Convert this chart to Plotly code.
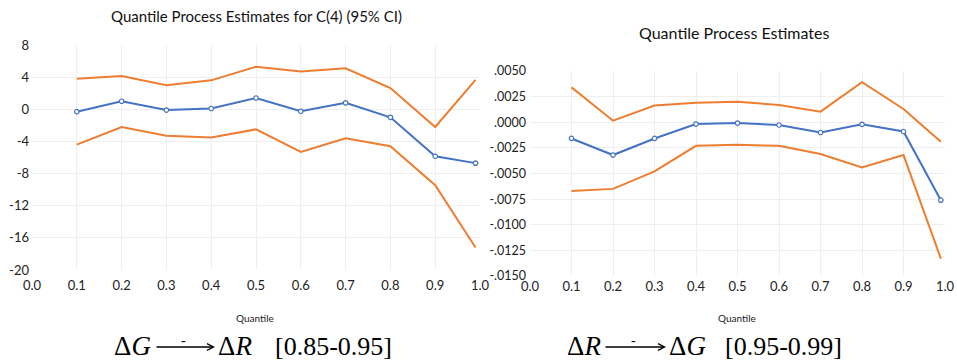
import plotly.graph_objects as go

W, H = 957, 363
OFF = 0  # body margin removed by post_script below

quantiles = [0.1, 0.2, 0.3, 0.4, 0.5, 0.6, 0.7, 0.8, 0.9, 0.99]

# Left panel: C(4) estimates with 95% CI
left_est = [-0.3, 1.0, -0.1, 0.1, 1.4, -0.25, 0.8, -1.0, -5.85, -6.7]
left_upper = [3.8, 4.15, 3.0, 3.6, 5.3, 4.7, 5.1, 2.65, -2.2, 3.65]
left_lower = [-4.4, -2.2, -3.3, -3.5, -2.5, -5.3, -3.6, -4.6, -9.45, -17.2]

# Right panel
right_est = [-0.00158, -0.0032, -0.00158, -0.00018, -0.00008, -0.00027, -0.0010, -0.0002, -0.0009, -0.0076]
right_upper = [0.0034, 0.00015, 0.00164, 0.0019, 0.0020, 0.00168, 0.00103, 0.0039, 0.00129, -0.0019]
right_lower = [-0.0067, -0.0065, -0.0048, -0.0023, -0.0022, -0.0023, -0.0031, -0.0044, -0.0032, -0.0133]

x_ticks = [0.0, 0.1, 0.2, 0.3, 0.4, 0.5, 0.6, 0.7, 0.8, 0.9, 1.0]
x_ticktext = ["0.0", "0.1", "0.2", "0.3", "0.4", "0.5", "0.6", "0.7", "0.8", "0.9", "1.0"]
left_yticks = [8, 4, 0, -4, -8, -12, -16, -20]
left_yticktext = ["8", "4", "0", "-4", "-8", "-12", "-16", "-20"]
right_yticks = [0.005, 0.0025, 0.0, -0.0025, -0.005, -0.0075, -0.01, -0.0125, -0.015]
right_yticktext = [".0050", ".0025", ".0000", "-.0025", "-.0050", "-.0075", "-.0100", "-.0125", "-.0150"]

BLUE = "#4472C4"
ORANGE = "#ED7D31"
GRID = "#EFEFEF"
FONT = "Lato"
SERIF = "Liberation Serif"


def px(x):
    return (x - OFF) / W


def py(y):
    return 1 - (y - OFF) / H


fig = go.Figure()

for (xa, ya, est, up, lo) in [("x", "y", left_est, left_upper, left_lower),
                              ("x2", "y2", right_est, right_upper, right_lower)]:
    fig.add_trace(go.Scatter(x=quantiles, y=up, mode="lines", xaxis=xa, yaxis=ya,
                             line=dict(color=ORANGE, width=2), showlegend=False))
    fig.add_trace(go.Scatter(x=quantiles, y=lo, mode="lines", xaxis=xa, yaxis=ya,
                             line=dict(color=ORANGE, width=2), showlegend=False))
    fig.add_trace(go.Scatter(x=quantiles, y=est, mode="lines+markers", xaxis=xa, yaxis=ya,
                             line=dict(color=BLUE, width=2),
                             marker=dict(symbol="circle", size=4.5, color="white",
                                         line=dict(color=BLUE, width=1.2)),
                             showlegend=False))

axis_common = dict(showgrid=True, gridcolor=GRID, gridwidth=1, zeroline=False,
                   showline=False, ticks="", automargin=False,
                   tickfont=dict(family=FONT, size=13, color="#222"))

fig.update_layout(
    width=W, height=H, autosize=False,
    margin=dict(l=0, r=0, t=0, b=0, pad=0),
    paper_bgcolor="white", plot_bgcolor="white",
    xaxis=dict(domain=[px(32), px(480)], range=[0, 1.0], anchor="y",
               tickvals=x_ticks, ticktext=x_ticktext, ticklabelstandoff=6, **axis_common),
    yaxis=dict(domain=[py(270), py(45)], range=[-20, 8], anchor="x",
               tickvals=left_yticks, ticktext=left_yticktext, ticklabelstandoff=2, **axis_common),
    xaxis2=dict(domain=[px(530), px(945)], range=[0, 1.0], anchor="y2",
                tickvals=x_ticks, ticktext=x_ticktext, ticklabelstandoff=1, **axis_common),
    yaxis2=dict(domain=[py(276), py(71)], range=[-0.015, 0.005], anchor="x2",
                tickvals=right_yticks, ticktext=right_yticktext, ticklabelstandoff=3, **axis_common),
)
fig.layout.yaxis2.tickfont.size = 12.5

ann = []
ann.append(dict(x=px(256), y=py(16), text="Quantile Process Estimates for C(4) (95% CI)",
                font=dict(family=FONT, size=15, color="#111")))
ann.append(dict(x=px(734), y=py(32), text="Quantile Process Estimates",
                font=dict(family=FONT, size=16, color="#111")))
ann.append(dict(x=px(255), y=py(318), text="Quantile", font=dict(family=FONT, size=10, color="#222")))
ann.append(dict(x=px(737), y=py(318), text="Quantile", font=dict(family=FONT, size=10, color="#222")))

# formulas
def formula(x_left_end, arrow_start, arrow_end, x_right_start, x_bracket, lhs, rhs, bracket):
    yc = 346
    out = []
    out.append(dict(x=px(x_left_end), y=py(yc), xanchor="right", text=lhs,
                    font=dict(family=SERIF, size=27, color="black")))
    out.append(dict(x=px(x_right_start), y=py(yc), xanchor="left", text=rhs,
                    font=dict(family=SERIF, size=27, color="black")))
    out.append(dict(x=px(x_bracket), y=py(yc), xanchor="left", text=bracket,
                    font=dict(family=SERIF, size=26, color="black")))
    out.append(dict(x=px(arrow_end), y=py(347), ax=arrow_start - arrow_end, ay=0, text="",
                    showarrow=True, arrowhead=5, arrowsize=1.0, arrowwidth=1.3, arrowcolor="black"))
    out.append(dict(x=px((arrow_start + arrow_end) / 2 - 2), y=py(340), text="-",
                    font=dict(family=SERIF, size=14, color="black")))
    return out

ann += formula(153, 155, 215, 216, 273, "Δ<i>G</i>", "Δ<i>R</i>", "[0.85-0.95]")
ann += formula(603, 604, 666, 667, 723, "Δ<i>R</i>", "Δ<i>G</i>", "[0.95-0.99]")

for a in ann:
    a.setdefault("showarrow", False)
    a["xref"] = "paper"
    a["yref"] = "paper"
    a.setdefault("yanchor", "middle")
    a.setdefault("xanchor", "center")
fig.update_layout(annotations=ann)

fig.write_html("out.html",
               config={"displayModeBar": False},
               post_script="document.body.style.margin='0';document.body.style.overflow='hidden';")
